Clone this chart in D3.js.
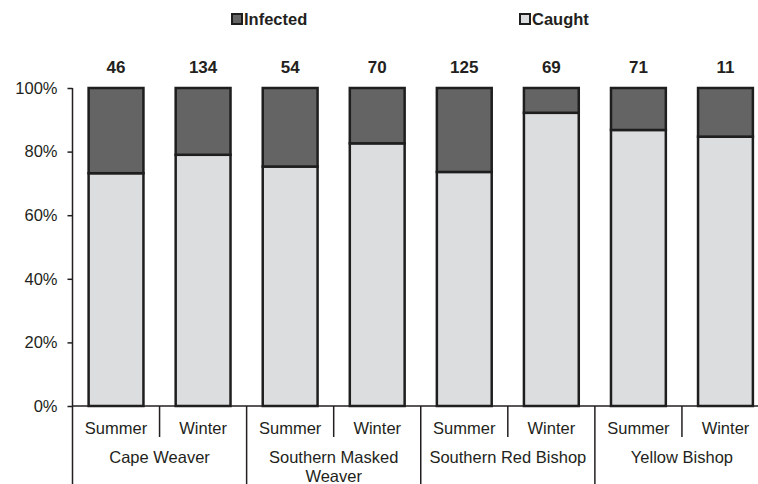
<!DOCTYPE html>
<meta charset="utf-8">
<head>
  <script src="https://cdn.jsdelivr.net/npm/d3@7"></script>
  <style>
    body { margin: 0; background: #fff; }
    svg { display: block; font-family: "Liberation Sans", Arial, sans-serif; }
    .axis text { font-size: 16.5px; fill: #231f20; }
    .axis path, .axis line { stroke: #231f20; stroke-width: 1.5; }
  </style>
</head>
<body>
<script>
// data
var species = ["Cape Weaver", "Southern Masked Weaver", "Southern Red Bishop", "Yellow Bishop"];
var seasons = ["Summer", "Winter"];
var totals = [46, 134, 54, 70, 125, 69, 71, 11];
var infectedShare = [0.268, 0.210, 0.247, 0.174, 0.264, 0.078, 0.132, 0.153];
var yTicks = [0, 0.2, 0.4, 0.6, 0.8, 1];
var legendKeys = ["Infected", "Caught"];

var W = 758, H = 484;
var x0 = 72.5, x1 = 769, yTop = 88, yBot = 406;

// one row per bar
var rows = [];
species.forEach(function(sp, i) {
  seasons.forEach(function(se, j) {
    var k = i * 2 + j;
    rows.push({id: sp + "|" + se, species: sp, season: se, total: totals[k],
               Infected: infectedShare[k], Caught: 1 - infectedShare[k]});
  });
});

var svg = d3.select("body").append("svg").attr("width", W).attr("height", H);

var x = d3.scaleBand().domain(rows.map(function(d) { return d.id; }))
  .range([x0, x1]).paddingInner(0.37).paddingOuter(0.185);
var xs = d3.scaleBand().domain(species).range([x0, x1]);
var y = d3.scaleLinear().domain([0, 1]).range([yBot, yTop]);
var color = d3.scaleOrdinal().domain(legendKeys).range(["#646464", "#dcdddf"]);

var stack = d3.stack().keys(["Caught", "Infected"]);
var series = stack(rows);

//barras
svg.append("g").selectAll("g").data(series).enter().append("g")
  .attr("fill", function(s) { return color(s.key); })
  .selectAll("rect").data(function(s) { return s; }).enter().append("rect")
  .attr("x", function(d) { return x(d.data.id); })
  .attr("width", x.bandwidth())
  .attr("y", function(d) { return y(d[1]); })
  .attr("height", function(d) { return y(d[0]) - y(d[1]); })
  .attr("stroke", "#1e1e1e").attr("stroke-width", 2.5);

//totales arriba de las barras
svg.append("g").selectAll("text").data(rows).enter().append("text")
  .attr("x", function(d) { return x(d.id) + x.bandwidth() / 2; })
  .attr("y", 73)
  .attr("text-anchor", "middle")
  .style("font-size", "17px").style("font-weight", "bold").attr("fill", "#231f20")
  .text(function(d) { return d.total; });

//eje y
var yAxis = d3.axisLeft(y).tickValues(yTicks).tickFormat(d3.format(".0%"))
  .tickSize(5).tickPadding(10);
var gy = svg.append("g").attr("class", "axis")
  .attr("transform", "translate(" + x0 + ",0)").call(yAxis);
gy.select(".domain").remove();
gy.append("line").attr("y1", yTop).attr("y2", H);

//eje x con dos niveles
var gx = svg.append("g").attr("class", "axis");
gx.append("line").attr("x1", x0).attr("x2", W).attr("y1", yBot).attr("y2", yBot);

gx.selectAll(".sep").data(species.slice(1)).enter().append("line")
  .attr("x1", function(d) { return xs(d); }).attr("x2", function(d) { return xs(d); })
  .attr("y1", yBot).attr("y2", H);

gx.selectAll(".mid").data(species).enter().append("line")
  .attr("x1", function(d) { return xs(d) + xs.bandwidth() / 2; })
  .attr("x2", function(d) { return xs(d) + xs.bandwidth() / 2; })
  .attr("y1", yBot).attr("y2", 437);

gx.selectAll(".season").data(rows).enter().append("text")
  .attr("x", function(d) { return x(d.id) + x.bandwidth() / 2; })
  .attr("y", 434).attr("text-anchor", "middle")
  .text(function(d) { return d.season; });

var spLabels = {"Southern Masked Weaver": ["Southern Masked", "Weaver"]};
gx.selectAll(".species").data(species).enter().append("text")
  .attr("x", function(d) { return xs(d) + xs.bandwidth() / 2; })
  .attr("y", 463).attr("text-anchor", "middle")
  .each(function(d) {
    var lines = spLabels[d] || [d];
    var t = d3.select(this);
    lines.forEach(function(l, i) {
      t.append("tspan").attr("x", t.attr("x")).attr("dy", i === 0 ? 0 : 18.5).text(l);
    });
  });

//leyenda
var legX = [232, 520];
var leg = svg.append("g").selectAll("g").data(legendKeys).enter().append("g")
  .attr("transform", function(d, i) { return "translate(" + legX[i] + ",19)"; });
leg.append("rect").attr("x", 0).attr("y", -5).attr("width", 10).attr("height", 10)
  .attr("fill", function(d) { return color(d); })
  .attr("stroke", "#1e1e1e").attr("stroke-width", 2);
leg.append("text").attr("x", 12).attr("y", 6)
  .style("font-size", "16.5px").style("font-weight", "bold").attr("fill", "#231f20")
  .text(function(d) { return d; });
</script>
</body>
